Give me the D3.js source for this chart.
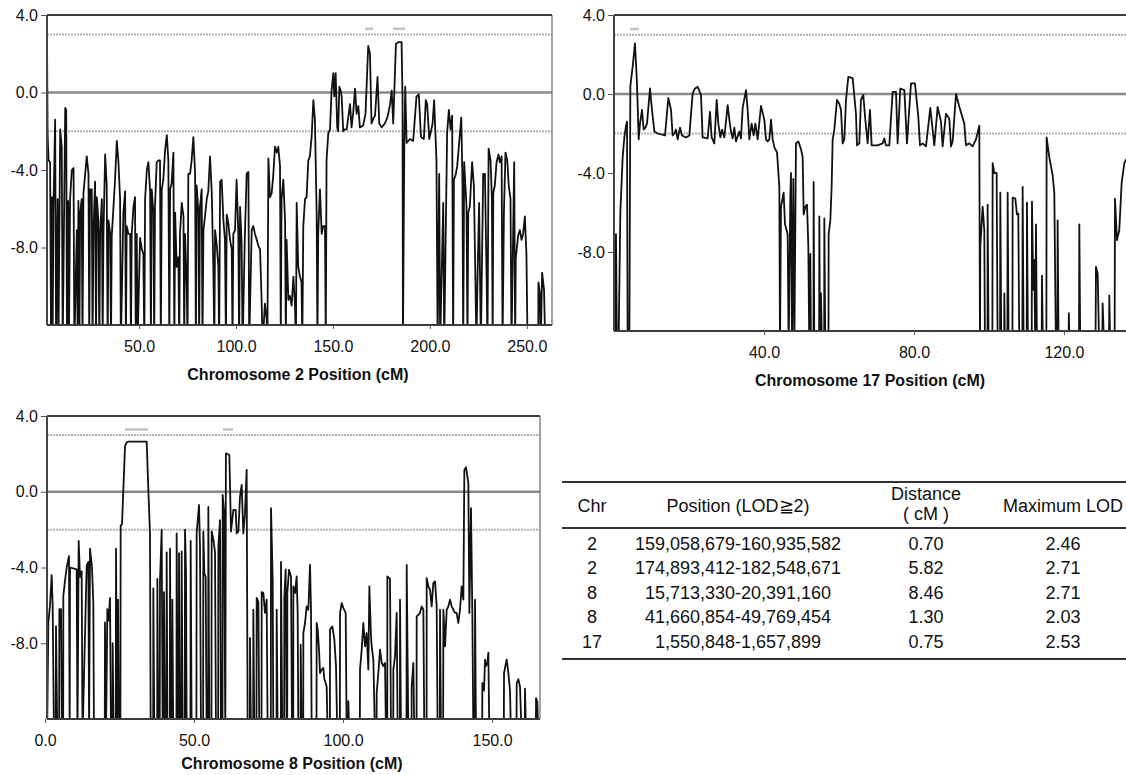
<!DOCTYPE html>
<html>
<head>
<meta charset="utf-8">
<script src="https://cdn.jsdelivr.net/npm/d3@7"></script>
<style>
  body { margin: 0; background: #fff; }
  text { font-family: "Liberation Sans", Arial, sans-serif; fill: #111; }
</style>
</head>
<body>
<svg id="chart" width="1126" height="775"></svg>
<script>
// LOD profiles: [position cM, LOD]; -13 = below the plotted floor
var chr2 = [[2.5,2.8],[2.8,-2.1],[3.3,-3.5],[4.1,-3.6],[4.6,-13],[5.0,-5.4],[5.4,-13],[5.8,-6.2],[6.7,-1.4],[7.2,-13],[8.0,-5.5],[8.4,-13],[9.3,-1.9],[10.1,-2.8],[10.6,-13],[11.9,-0.8],[12.4,-0.9],[12.8,-13],[13.4,-5.6],[13.8,-13],[14.4,-5.5],[15.3,-4.0],[16.2,-3.9],[16.6,-13],[17.9,-7.1],[18.3,-13],[18.7,-5.6],[19.2,-13],[19.6,-6.2],[20.4,-5.5],[20.8,-13],[21.3,-5.2],[22.2,-4.2],[23.0,-3.3],[23.9,-4.2],[24.3,-13],[24.7,-5.0],[25.6,-5.0],[26.0,-13],[26.5,-7.1],[27.3,-4.6],[27.8,-13],[28.2,-5.4],[29.0,-6.6],[29.5,-13],[29.9,-7.3],[30.8,-5.5],[31.2,-13],[31.6,-7.4],[32.5,-3.2],[33.3,-4.8],[33.8,-13],[34.2,-6.6],[35.1,-7.3],[35.5,-13],[35.9,-7.4],[36.8,-5.9],[37.6,-4.5],[38.5,-2.5],[39.3,-3.5],[40.2,-5.5],[40.6,-13],[41.9,-6.2],[42.8,-5.1],[43.2,-13],[43.6,-6.9],[44.5,-7.3],[45.4,-7.3],[45.8,-13],[46.2,-7.3],[47.1,-5.9],[47.9,-5.4],[48.3,-13],[48.8,-7.3],[49.2,-13],[50.5,-7.5],[51.4,-8.1],[52.2,-8.3],[52.7,-13],[53.1,-5.5],[54.0,-4.0],[54.8,-3.6],[55.7,-5.1],[56.1,-13],[56.5,-5.0],[57.4,-6.2],[57.8,-13],[58.2,-5.9],[59.1,-3.6],[60.0,-3.5],[60.8,-3.5],[61.2,-13],[61.7,-5.0],[62.5,-4.5],[63.4,-3.0],[64.3,-2.2],[65.1,-3.5],[65.6,-13],[66.0,-5.0],[66.8,-4.7],[67.7,-3.1],[68.2,-13],[68.6,-6.2],[69.4,-9.0],[70.3,-8.5],[70.7,-13],[71.1,-7.3],[72.0,-5.7],[72.9,-6.4],[73.3,-13],[73.7,-7.3],[74.6,-10.0],[75.0,-13],[75.4,-4.2],[76.3,-4.2],[77.1,-3.5],[78.0,-2.3],[78.9,-4.2],[79.3,-13],[79.7,-4.8],[80.6,-6.2],[81.0,-13],[81.4,-5.9],[82.3,-5.0],[82.7,-13],[83.2,-7.1],[84.0,-6.4],[84.9,-5.5],[85.7,-5.1],[86.6,-3.3],[87.5,-5.2],[88.3,-9.0],[88.8,-13],[89.2,-7.1],[90.0,-7.8],[90.9,-9.0],[91.3,-13],[91.8,-4.6],[92.6,-4.5],[93.5,-6.6],[94.3,-7.6],[94.8,-13],[95.2,-6.3],[96.0,-6.7],[96.9,-7.6],[97.8,-8.1],[98.2,-13],[98.6,-7.3],[99.5,-7.1],[100.3,-4.5],[101.2,-7.3],[101.6,-13],[102.1,-5.9],[102.9,-7.8],[103.4,-13],[104.6,-7.3],[105.5,-4.2],[106.4,-4.1],[106.8,-13],[108.1,-7.1],[108.9,-6.9],[109.8,-7.3],[110.7,-7.6],[111.5,-7.9],[112.4,-8.1],[113.2,-10.7],[113.7,-13],[114.9,-10.9],[115.8,-11.7],[116.2,-13],[116.7,-3.4],[117.5,-5.4],[118.4,-5.2],[119.2,-4.3],[120.1,-2.8],[121.0,-3.1],[121.8,-2.8],[122.7,-3.8],[123.1,-13],[123.5,-5.5],[124.4,-4.5],[125.3,-6.6],[125.7,-13],[126.1,-7.6],[127.0,-10.7],[127.8,-10.5],[128.7,-11.0],[129.6,-9.5],[130.4,-10.9],[130.9,-13],[131.3,-5.7],[132.1,-9.0],[133.0,-9.5],[133.8,-9.8],[134.2,-13],[134.7,-6.9],[135.6,-5.5],[136.4,-5.4],[137.3,-3.5],[138.1,-3.3],[139.0,-2.3],[139.9,-0.4],[140.7,-1.4],[141.6,-6.2],[142.0,-13],[142.4,-7.3],[143.3,-5.0],[144.2,-7.3],[145.0,-6.9],[145.9,-6.9],[146.3,-13],
  [146.7,-3.5],[147.6,-2.1],[148.5,-1.9],[149.3,0.1],[150.2,1.0],[150.7,-0.2],[151.4,1.0],[152.2,-1.8],[152.7,-2.0],[153.3,0.3],[154.0,0.1],[154.5,-0.2],[155.3,-2.0],[156.0,-1.9],[157.1,-1.9],[158.0,-1.2],[158.8,-0.6],[159.6,-1.8],[160.5,-1.0],[161.4,0.2],[162.2,-1.1],[163.1,-0.7],[163.9,-1.8],[165.6,-1.7],[166.8,-1.1],[168.2,2.4],[169.1,2.0],[169.9,-1.6],[171.0,-1.3],[171.7,-1.2],[173.0,0.8],[173.9,-1.6],[175.1,-1.8],[176.8,-1.6],[178.0,-1.3],[178.5,-1.1],[179.5,-0.6],[180.3,0.1],[181.1,-1.6],[182.5,2.5],[183.7,2.6],[185.4,2.6],[185.9,-0.3],[186.1,-13],[186.8,-2.8],[187.3,0.3],[188.0,-2.6],[189.7,-2.4],[191.4,-2.5],[193.1,-0.2],[194.3,-0.1],[195.4,-2.3],[196.9,-2.4],[197.9,-0.4],[198.6,-0.6],[199.7,-2.4],[201.4,-1.6],[202.2,-0.4],[203.4,-3.5],[204.0,-13],[204.8,-4.2],[205.3,-13],[206.9,-5.7],[207.4,-13],[208.9,-2.1],[209.8,-0.9],[210.7,-1.9],[211.5,-1.2],[212.0,-13],[212.4,-4.5],[213.2,-4.3],[214.1,-3.8],[215.1,-2.6],[216.2,-1.3],[216.8,-4.5],[217.2,-13],[217.7,-3.6],[218.9,-5.9],[219.4,-13],[219.8,-6.2],[220.6,-5.9],[221.8,-3.6],[222.7,-4.8],[223.5,-9.7],[224.0,-13],[224.6,-9.5],[225.4,-5.7],[226.3,-13],[227.5,-4.2],[228.4,-4.2],[229.2,-9.1],[229.7,-13],[230.3,-2.9],[231.3,-3.5],[232.0,-5.5],[232.4,-13],[232.7,-5.2],[233.5,-4.8],[234.4,-3.6],[235.4,-3.2],[236.1,-3.6],[237.0,-3.3],[237.5,-13],[238.2,-6.2],[239.0,-3.1],[239.9,-3.5],[240.7,-4.8],[241.6,-5.5],[242.1,-13],[242.6,-9.7],[243.5,-3.6],[244.0,-13],[244.3,-8.6],[245.5,-7.4],[246.4,-7.1],[247.3,-7.6],[248.1,-7.3],[249.0,-6.4],[249.8,-8.3],[250.4,-13],[255.9,-13],[256.0,-9.8],[256.7,-10.3],[257.2,-13],[257.9,-9.3],[258.9,-10.2],[259.5,-13],[262.7,-13]];

var chr17 = [[0.3,-13],[0.53,-7.1],[0.8,-13],[1.2,-13],[1.69,-6.0],[2.31,-3.2],[2.76,-2.2],[3.2,-1.6],[3.47,-1.4],[3.64,-13],[4.09,-13],[4.36,0.4],[4.98,1.4],[5.6,2.56],[6.13,0.54],[6.58,-2.3],[6.93,-1.5],[7.47,-0.8],[7.91,-1.8],[8.36,-1.7],[8.8,-1.5],[9.6,0.28],[10.13,-0.8],[10.76,-1.9],[11.64,-2.0],[13.6,-2.1],[14.49,-0.2],[15.2,-0.8],[15.64,-2.1],[16.09,-2.0],[16.53,-1.8],[16.98,-2.3],[17.6,-1.7],[18.13,-2.1],[19.2,-2.2],[20.09,-2.1],[20.98,0.03],[21.6,0.28],[22.31,0.37],[23.2,-0.05],[23.64,-2.2],[24.98,-2.25],[25.6,-0.9],[26.04,-2.2],[26.76,-2.5],[27.38,-0.3],[27.82,-1.5],[28.36,-2.2],[28.8,-1.8],[29.42,-2.2],[30.31,-0.56],[30.76,-1.3],[31.2,-1.9],[31.64,-2.25],[32.09,-1.7],[32.53,-2.4],[33.42,-1.9],[33.87,-2.25],[34.31,-0.7],[35.2,0.2],[35.64,-0.8],[36.09,-2.3],[36.71,-1.5],[37.24,-2.1],[37.69,-1.5],[38.31,-2.3],[39.2,-0.6],[40.09,-1.3],[40.53,-2.3],[40.98,-2.4],[41.42,-2.3],[41.87,-1.3],[42.31,-2.3],[42.76,-2.7],[43.47,-2.95],[44.09,-4.7],[44.27,-13],[44.53,-5.7],[45.24,-5.0],[45.6,-6.6],[46.31,-7.1],[46.58,-13],[47.02,-5.2],[47.2,-4.0],[47.47,-13],[47.82,-4.3],[48.09,-13],[48.53,-2.5],[49.16,-2.4],[49.87,-2.8],[50.31,-3.2],[50.58,-6.1],[51.02,-5.7],[51.47,-5.6],[51.82,-7.7],[52.09,-13],[52.36,-8.1],[52.53,-13],[53.2,-13],[53.24,-4.45],[53.42,-13],[54.7,-13],[54.76,-6.2],[54.93,-13],[55.15,-13],[55.2,-10.1],[55.47,-13],[56.05,-13],[56.09,-6.3],[56.36,-13],[57.2,-13],[57.24,-7.1],[57.69,-6.4],[58.04,-4.7],[58.31,-2.3],[58.76,-1.8],[59.47,-0.3],[60.09,-0.5],[60.53,-0.8],[60.98,-2.5],[61.42,-2.3],[61.87,-0.3],[62.49,0.87],[63.64,0.8],[64.53,-1.0],[64.8,-2.6],[65.42,-2.5],[65.86,-0.3],[66.48,-0.05],[67.02,-1.3],[67.64,-2.5],[68.26,-0.8],[68.71,-2.6],[70.31,-2.6],[71.64,-2.5],[72.08,-2.25],[72.53,-2.6],[73.42,-2.6],[74.31,0.11],[75.2,0.11],[75.64,-2.5],[76.35,0.28],[77.42,0.2],[78.13,-2.5],[79.2,0.54],[80.26,0.54],[81.15,-1.15],[81.6,-2.6],[82.31,-2.5],[83.2,-2.65],[84.35,-0.7],[85.42,-2.6],[86.31,-0.65],[87.2,-1.4],[87.64,-2.65],[88.53,-1.0],[89.42,-1.25],[89.86,-2.65],[90.31,-2.4],[91.2,0.0],[92.09,-0.65],[93.42,-1.5],[93.86,-2.6],[94.75,-2.5],[95.64,-2.65],[96.53,-2.3],[97.42,-1.6],[97.6,-13],[97.69,-7.7],[98.31,-5.7],[98.75,-6.9],[98.93,-13],[99.6,-13],[99.64,-5.6],[99.9,-13],[100.9,-13],[100.98,-3.5],[101.42,-4.0],[102.04,-4.0],[102.31,-13],[102.95,-13],[103.02,-5.0],[103.29,-13],[104.05,-13],[104.09,-10.1],[104.26,-13],[104.9,-13],[104.98,-5.0],[105.24,-13],[106.25,-13],[106.31,-5.25],[107.02,-5.3],[107.46,-6.1],[107.82,-6.05],[108.09,-13],[108.9,-13],[108.98,-4.7],[109.24,-13],[110.05,-13],[110.13,-5.5],[110.4,-13],[111.4,-13],[111.46,-5.45],[111.82,-9.9],[112.08,-8.4],[112.35,-13],[112.53,-6.6],[112.8,-13],[114.05,-13],[114.13,-9.2],[114.4,-13],[115.3,-13],[115.37,-2.2],[116.08,-3.2],[116.97,-4.1],[117.42,-5.0],[117.86,-13],[118.25,-13],[118.31,-6.4],[118.57,-13],[121.2,-13],[121.3,-11.1],[121.51,-13],[124.0,-13],[124.09,-6.6],[124.35,-13],[128.4,-13],[128.53,-8.75],[128.98,-9.1],[129.42,-13],[130.2,-13],[130.31,-10.6],[130.75,-13],[132.0,-13],[132.09,-10.2],[132.35,-13],[133.5,-13],[133.6,-5.3],[134.13,-7.4],[134.75,-6.9],[135.38,-4.5],[136.09,-3.5],[137.5,-3.0]];

var chr8 = [[0.7,-13],[1.12,-6.9],[1.68,-6.0],[2.24,-4.4],[2.57,-6.0],[3.02,-13],[3.6,-13],[3.69,-7.1],[4.14,-13],[4.75,-13],[4.81,-6.2],[5.37,-6.2],[5.7,-13],[6.1,-13],[6.15,-5.5],[6.71,-4.7],[7.27,-4.0],[8.05,-3.4],[8.28,-13],[8.39,-4.0],[10.63,-4.1],[10.9,-13],[11.3,-2.6],[11.74,-4.5],[12.3,-4.2],[12.6,-13],[13.98,-3.9],[14.54,-3.7],[14.8,-13],[15.1,-3.0],[15.77,-4.0],[16.22,-5.9],[16.44,-13],[20.05,-13],[20.13,-6.9],[20.47,-13],[20.92,-6.2],[21.36,-6.8],[21.81,-5.6],[22.15,-13],[22.65,-13],[22.71,-8.0],[23.04,-13],[23.75,-13],[23.83,-3.0],[24.16,-13],[24.45,-13],[24.5,-5.7],[24.83,-13],[25.3,-13],[25.39,-1.8],[25.84,-1.7],[26.29,0.1],[26.85,2.4],[27.4,2.6],[27.96,2.65],[34.12,2.65],[34.68,0.1],[35.23,-2.2],[35.46,-13],[36.3,-13],[36.35,-5.1],[36.69,-13],[37.65,-13],[37.7,-4.6],[38.03,-13],[38.5,-13],[38.59,-4.7],[39.15,-2.0],[39.49,-13],[39.85,-13],[39.93,-5.3],[40.27,-13],[40.75,-13],[40.83,-3.2],[41.1,-13],[41.9,-13],[41.95,-3.0],[42.28,-13],[42.7,-13],[42.73,-5.7],[43.06,-13],[44.1,-13],[44.18,-2.2],[44.52,-13],[44.9,-13],[44.97,-3.24],[45.3,-13],[45.8,-13],[45.86,-3.15],[46.2,-13],[46.9,-13],[46.98,-2.0],[47.32,-4.2],[47.54,-13],[48.8,-13],[48.88,-2.6],[49.22,-13],[50.8,-13],[50.89,-2.2],[51.68,-0.7],[52.01,-2.9],[52.35,-13],[53.05,-13],[53.13,-2.1],[53.47,-4.3],[53.91,-4.5],[54.25,-13],[54.75,-13],[54.81,-0.8],[55.15,-13],[55.85,-13],[55.93,-2.1],[56.49,-2.5],[57.05,-3.2],[57.38,-13],[58.1,-13],[58.17,-2.9],[58.72,-1.5],[59.06,-13],[59.55,-13],[59.62,-0.17],[60.07,-1.0],[60.51,-13],[60.7,2.03],[61.86,1.94],[62.42,-2.1],[63.2,-0.96],[63.98,-0.96],[64.32,-2.2],[64.88,-2.1],[65.44,-0.25],[66.0,0.36],[66.55,-2.2],[67.11,-1.13],[67.67,1.15],[68.01,-13],[68.75,-13],[68.79,-7.72],[69.13,-13],[69.85,-13],[69.91,-6.23],[70.25,-13],[70.95,-13],[71.03,-5.6],[71.59,-5.8],[71.92,-13],[72.65,-13],[72.71,-5.3],[73.27,-5.35],[73.83,-6.4],[74.38,-5.7],[74.72,-13],[75.78,-13],[75.84,-0.87],[76.4,-4.65],[76.62,-13],[77.7,-13],[77.74,-6.23],[78.08,-13],[79.15,-13],[79.19,-3.7],[79.64,-13],[80.25,-13],[80.31,-5.6],[80.76,-4.1],[81.1,-13],[81.28,-13],[81.32,-5.35],[81.88,-4.12],[82.55,-4.47],[82.9,-13],[83.3,-13],[83.33,-5.0],[83.89,-5.35],[84.45,-4.47],[84.79,-6.4],[85.01,-13],[85.75,-13],[85.8,-8.07],[86.13,-13],[86.65,-13],[86.69,-7.46],[87.25,-6.93],[87.81,-6.05],[88.37,-6.23],[88.93,-3.86],[89.26,-6.23],[89.49,-13],[91.1,-13],[91.16,-6.93],[91.5,-7.28],[91.95,-8.34],[92.28,-9.57],[92.84,-9.39],[93.4,-9.3],[93.74,-9.9],[94.18,-10.1],[94.52,-10.3],[94.86,-13],[95.6,-13],[95.64,-7.28],[96.42,-7.11],[97.09,-7.8],[97.65,-9.2],[98.1,-13],[98.95,-13],[99.0,-6.4],[99.55,-5.88],[100.11,-6.14],[100.9,-6.4],[101.23,-13],[101.75,-13],[101.79,-11.06],[102.13,-13],[105.65,-13],[105.7,-9.39],[106.27,-8.34],[106.82,-6.93],[107.38,-8.16],[107.94,-7.46],[108.5,-9.39],[108.84,-5.0],[109.4,-7.64],[109.62,-8.16],[110.18,-8.86],[110.74,-13],[111.25,-13],[111.3,-10.6],[111.86,-9.57],[112.42,-8.34],[112.98,-9.04],[113.54,-9.2],[114.1,-9.04],[114.43,-13],[114.85,-13],[114.88,-4.47],[115.77,-4.6],[116.11,-13],[116.85,-13],[116.89,-9.39],[117.45,-8.7],[118.01,-6.4],[118.35,-13],[119.1,-13],[119.13,-5.7],[119.46,-13],[121.3,-13],[121.37,-3.86],[121.93,-13],[123.0,-13],[123.04,-10.3],[123.6,-9.04],[123.94,-13],[124.68,-13],[124.72,-6.58],[125.28,-6.5],[125.84,-6.4],[126.4,-6.05],[126.96,-6.23],[127.29,-13],[128.05,-13],[128.08,-4.56],[128.64,-5.0],[129.2,-5.17],[129.75,-6.05],[130.31,-4.82],[130.87,-4.73],[131.43,-6.05],[131.77,-13],[132.5,-13],[132.55,-6.23],[132.89,-13],[133.6,-13],[133.67,-6.23],[134.23,-8.16],[134.79,-6.23],[135.35,-6.05],[135.91,-5.7],[136.47,-6.05],[137.03,-6.23],[137.58,-6.4],[138.14,-6.4],[138.7,-6.93],[139.26,-6.23],[139.82,-5.0],[140.38,-5.7],[140.72,1.15],[141.28,1.29],[142.06,0.45],[142.4,-6.4],[142.95,-0.87],[143.4,-6.4],[143.74,-13],[144.25,-13],[144.3,-5.7],[144.63,-13],[146.7,-13],[146.76,-10.1],[147.32,-10.5],[147.65,-8.86],[147.99,-9.2],[148.44,-9.04],[148.77,-8.5],[149.11,-13],[153.95,-13],[154.03,-9.57],[154.92,-8.86],[155.48,-9.57],[156.04,-10.5],[156.38,-13],[158.2,-13],[158.28,-10.1],[158.84,-9.9],[159.4,-10.3],[159.96,-13],[161.0,-13],[161.07,-10.4],[161.41,-13],[164.7,-13],[164.77,-10.9],[165.21,-11.1],[165.55,-13],[166.2,-13]];

// regions with LOD >= 2 marked above the curves (cM)
var chr2Marks = [[166.5,170.6],[180.9,187.1]];
var chr17Marks = [[4.3,6.7]];
var chr8Marks = [[26.8,34.6],[59.7,63.1]];
var markLod = 3.3;

var yDomain = [-12, 4];
var yTicks = [4, 0, -4, -8];
var refLines = [3, 0, -2];
var chr2Ticks = [50, 100, 150, 200, 250];
var chr17Ticks = [40, 80, 120];
var chr8Ticks = [0, 50, 100, 150];

// summary table
var tableChr = ["2", "2", "8", "8", "17"];
var tablePos = ["159,058,679-160,935,582", "174,893,412-182,548,671", "15,713,330-20,391,160", "41,660,854-49,769,454", "1,550,848-1,657,899"];
var tableDist = ["0.70", "5.82", "8.46", "1.30", "0.75"];
var tableMaxLod = ["2.46", "2.71", "2.71", "2.03", "2.53"];

var svg = d3.select("#chart");
var fmt = function(d) { return d3.format(".1f")(d).replace("\u2212", "-"); };

function drawPanel(p) {
  var x = d3.scaleLinear().domain(p.xDomain).range(p.xRange);
  var y = d3.scaleLinear().domain(yDomain).range([p.bottom, p.top]);
  var g = svg.append("g");

  svg.append("clipPath").attr("id", "clip" + p.id)
    .append("rect")
    .attr("x", p.left).attr("y", p.top)
    .attr("width", p.right - p.left).attr("height", p.bottom - p.top);

  // threshold lines
  g.selectAll(".ref").data(refLines).enter().append("line")
    .attr("x1", p.left).attr("x2", p.right)
    .attr("y1", function(d) { return y(d); })
    .attr("y2", function(d) { return y(d); })
    .attr("stroke", function(d) { return d === 0 ? "#8a8a8a" : "#b0b0b0"; })
    .attr("stroke-width", function(d) { return d === 0 ? 2.4 : 2; })
    .attr("stroke-dasharray", function(d) { return d === 0 ? null : "2,1"; });

  // significant-interval marks
  g.selectAll(".mark").data(p.marks).enter().append("rect")
    .attr("x", function(d) { return x(d[0]); })
    .attr("width", function(d) { return x(d[1]) - x(d[0]); })
    .attr("y", y(markLod) - 1)
    .attr("height", 2.5)
    .attr("fill", "#c4c4c4");

  // LOD curve
  var line = d3.line()
    .x(function(d) { return x(d[0]); })
    .y(function(d) { return y(d[1]); });

  g.append("path").datum(p.data)
    .attr("clip-path", "url(#clip" + p.id + ")")
    .attr("d", line)
    .attr("fill", "none")
    .attr("stroke", "#111")
    .attr("stroke-width", 1.8)
    .attr("stroke-linejoin", "round");

  // frame
  g.append("line").attr("x1", p.left).attr("x2", p.right).attr("y1", p.top).attr("y2", p.top)
    .attr("stroke", "#3c3c3c").attr("stroke-width", 2);
  g.append("line").attr("x1", p.left).attr("x2", p.right).attr("y1", p.bottom).attr("y2", p.bottom)
    .attr("stroke", "#3c3c3c").attr("stroke-width", 2);
  g.append("line").attr("x1", p.left).attr("x2", p.left).attr("y1", p.top).attr("y2", p.bottom)
    .attr("stroke", "#444").attr("stroke-width", 2);
  if (p.rightBorder) {
    g.append("line").attr("x1", p.right).attr("x2", p.right).attr("y1", p.top).attr("y2", p.bottom)
      .attr("stroke", "#666").attr("stroke-width", 1.2);
  }

  // axes
  var yAxis = g.append("g")
    .attr("transform", "translate(" + p.left + ",0)")
    .call(d3.axisLeft(y).tickValues(yTicks).tickSize(6).tickPadding(3).tickFormat(fmt));
  var xAxis = g.append("g")
    .attr("transform", "translate(0," + p.bottom + ")")
    .call(d3.axisBottom(x).tickValues(p.xTicks).tickSize(4).tickPadding(12).tickFormat(fmt));

  [yAxis, xAxis].forEach(function(a) {
    a.select(".domain").remove();
    a.selectAll("line").attr("stroke", "#555");
    a.selectAll("text").attr("font-size", "16px").attr("fill", "#111")
      .style("font-family", "'Liberation Sans', Arial, sans-serif");
  });

  g.append("text")
    .attr("x", p.titleX).attr("y", p.titleY)
    .attr("text-anchor", "middle")
    .attr("font-size", "16px").attr("font-weight", "bold")
    .text(p.title);
}

drawPanel({ id: 2, data: chr2, marks: chr2Marks, xDomain: [2.5, 263], xRange: [47, 552],
  left: 47, right: 552, top: 15, bottom: 325, xTicks: chr2Ticks, rightBorder: true,
  title: "Chromosome 2 Position (cM)", titleX: 298, titleY: 380 });

drawPanel({ id: 17, data: chr17, marks: chr17Marks, xDomain: [0, 137.5], xRange: [614, 1129.6],
  left: 614, right: 1130, top: 15, bottom: 331, xTicks: chr17Ticks, rightBorder: false,
  title: "Chromosome 17 Position (cM)", titleX: 870, titleY: 386 });

drawPanel({ id: 8, data: chr8, marks: chr8Marks, xDomain: [0, 166], xRange: [45, 539.7],
  left: 47, right: 540, top: 416, bottom: 719, xTicks: chr8Ticks, rightBorder: true,
  title: "Chromosome 8 Position (cM)", titleX: 292, titleY: 769 });

// table
var tbl = svg.append("g");
var colX = [592, 738, 926, 1063];
var rowY = [544, 568, 593, 617, 642];

[482, 528, 659].forEach(function(yy) {
  tbl.append("line").attr("x1", 562).attr("x2", 1126).attr("y1", yy).attr("y2", yy)
    .attr("stroke", "#333").attr("stroke-width", 1.8);
});

function cell(txt, cx, cy) {
  tbl.append("text").attr("x", cx).attr("y", cy).attr("dy", "0.35em")
    .attr("text-anchor", "middle").attr("font-size", "18px").text(txt);
}

cell("Chr", colX[0], 506);
cell("Position (LOD\u22672)", colX[1], 506);
cell("Distance", colX[2], 494);
cell("( cM )", colX[2], 514);
cell("Maximum LOD", colX[3], 506);

rowY.forEach(function(ry, i) {
  cell(tableChr[i], colX[0], ry);
  cell(tablePos[i], colX[1], ry);
  cell(tableDist[i], colX[2], ry);
  cell(tableMaxLod[i], colX[3], ry);
});
</script>
</body>
</html>
